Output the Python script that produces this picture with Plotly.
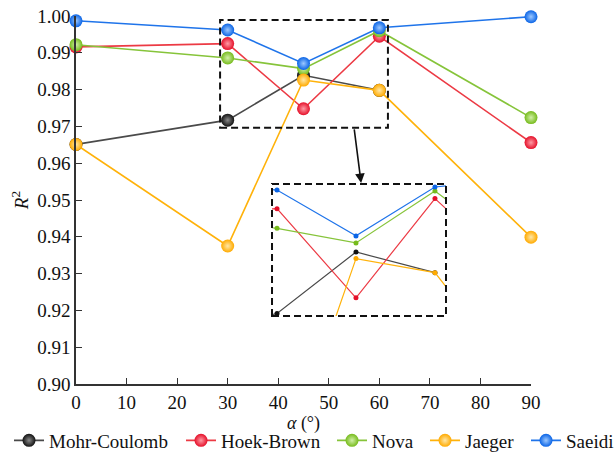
import plotly.graph_objects as go

# ---- data ----
angles = [0, 30, 45, 60, 90]
mc_angles = [0, 30, 45, 60]
mohr_coulomb = [0.9651, 0.9717, 0.9839, 0.9798]
hoek_brown = [0.9916, 0.9925, 0.9748, 0.9945, 0.9656]
nova = [0.9922, 0.9886, 0.9857, 0.9960, 0.9724]
jaeger = [0.9651, 0.9375, 0.9826, 0.9798, 0.9399]
saeidi = [0.9987, 0.9962, 0.9871, 0.9968, 0.9998]

x_ticks = [0, 10, 20, 30, 40, 50, 60, 70, 80, 90]
y_ticks = [0.90, 0.91, 0.92, 0.93, 0.94, 0.95, 0.96, 0.97, 0.98, 0.99, 1.00]

series = [
    ("Mohr-Coulomb", mc_angles, mohr_coulomb, "#4a4a4a", "#111111", "#8a8a8a"),
    ("Hoek-Brown", angles, hoek_brown, "#ec3a44", "#e5102a", "#ff9aa4"),
    ("Nova", angles, nova, "#86c43a", "#76bb1c", "#d2f0a8"),
    ("Jaeger", angles, jaeger, "#ffb20a", "#ffaa00", "#ffe7a6"),
    ("Saeidi", angles, saeidi, "#1f74ea", "#0a64e6", "#9cc8ff"),
]
# legend text start x (px) for each series
legend_text_px = [49, 221, 372, 465, 566]

FONT = "Liberation Serif, Times New Roman, serif"
FS = 19
W, H = 614, 452
ML, MR, MT, MB = 76, 83, 16, 68
PW, PH = W - ML - MR, H - MT - MB

fig = go.Figure()

legend_layout = {}
for i, (name, xs, ys, lc, mc, hc) in enumerate(series):
    lid = "legend" if i == 0 else f"legend{i + 1}"
    fig.add_trace(go.Scatter(
        x=xs, y=ys, name=name, mode="lines+markers",
        line=dict(color=lc, width=1.6),
        marker=dict(size=13, color=mc, line=dict(width=0),
                    gradient=dict(type="radial", color=hc)),
        cliponaxis=False, legend=lid,
    ))
    legend_layout[lid] = dict(
        orientation="h", xref="paper", yref="paper",
        x=(legend_text_px[i] - 40 - ML) / PW, xanchor="left",
        y=(MT + PH - 440.5) / PH, yanchor="middle",
        font=dict(family=FONT, size=FS, color="#111111"),
        bgcolor="rgba(0,0,0,0)", borderwidth=0, itemwidth=30,
    )

# inset traces (zoomed view of the dashed box)
for name, xs, ys, lc, mc, hc in series:
    fig.add_trace(go.Scatter(
        x=xs, y=ys, name=name, mode="lines+markers", showlegend=False,
        line=dict(color=lc, width=1.2),
        marker=dict(size=5, color=mc),
        xaxis="x2", yaxis="y2",
    ))

axis_common = dict(
    showgrid=False, zeroline=False, showline=True, linecolor="#333333",
    linewidth=1.6, ticks="inside", ticklen=6, tickwidth=1.4, tickcolor="#333333",
    tickfont=dict(family=FONT, size=FS, color="#111111"), automargin=False,
)

fig.update_layout(
    width=W, height=H,
    margin=dict(l=ML, r=MR, t=MT, b=MB, autoexpand=False),
    paper_bgcolor="white", plot_bgcolor="white",
    font=dict(family=FONT, size=FS, color="#111111"),
    xaxis=dict(range=[0, 90], tickvals=x_ticks, **axis_common,
               title=dict(text="<i>α</i> (°)", standoff=0,
                          font=dict(family=FONT, size=18))),
    yaxis=dict(range=[0.90, 1.00], tickvals=y_ticks, tickformat=".2f", **axis_common,
               title=dict(text="<i>R</i><sup>2</sup>", standoff=4,
                          font=dict(family=FONT, size=FS))),
    xaxis2=dict(domain=[0.4308, 0.8132], range=[29.05, 62.1], visible=False,
                anchor="y2"),
    yaxis2=dict(domain=[0.1848, 0.5435], range=[0.9712, 0.9974], visible=False,
                anchor="x2"),
    showlegend=True,
    **legend_layout,
)

# dashed zoom box in main axes
fig.add_shape(type="rect", xref="x", yref="y", x0=28.5, x1=61.7, y0=0.9696, y1=0.9989,
              line=dict(color="#111111", width=2, dash="7px,4px"))
# dashed inset frame
fig.add_shape(type="rect", xref="x2 domain", yref="y2 domain", x0=0, x1=1, y0=0, y1=1,
              line=dict(color="#111111", width=2, dash="7px,4px"))
# arrow
fig.add_annotation(x=56.4, y=0.9546, ax=55.0, ay=0.9696, xref="x", yref="y",
                   axref="x", ayref="y", showarrow=True, arrowhead=2,
                   arrowsize=1.2, arrowwidth=1.6, arrowcolor="#111111", text="")

fig.write_html("out.html")
